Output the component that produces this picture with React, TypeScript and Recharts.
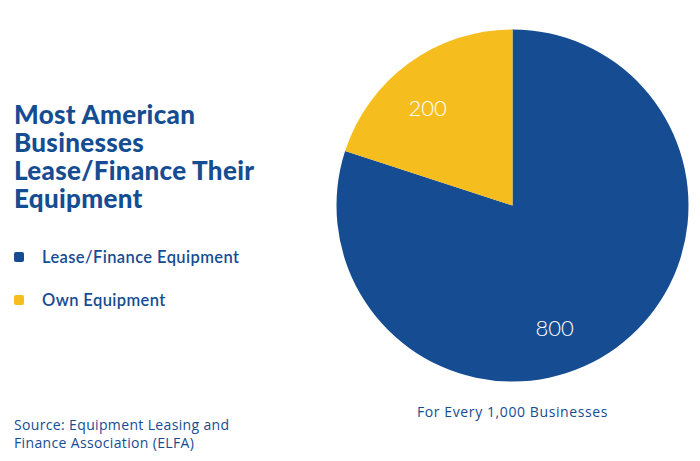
import React from "react";
import { PieChart, Pie, Cell } from "recharts";

const categories = ["Lease/Finance Equipment", "Own Equipment"];
const values = [800, 200];
const colors = ["#154C92", "#F5BE1E"];
const titleLines = ["Most American", "Businesses", "Lease/Finance Their", "Equipment"];
const sourceLines = ["Source: Equipment Leasing and", "Finance Association (ELFA)"];
const caption = "For Every 1,000 Businesses";

const data = categories.map((name, i) => ({ name, value: values[i] }));

const BLUE = "#154C92";
const LABEL_ANGLE_SHIFT = [-17, 5];
const RAD = Math.PI / 180;

const renderLabel = (props: any) => {
  const { cx, cy, midAngle, outerRadius, index, value } = props;
  const a = (midAngle + LABEL_ANGLE_SHIFT[index]) * RAD;
  const r = outerRadius * 0.735;
  const x = cx + r * Math.cos(a);
  const y = cy - r * Math.sin(a);
  return (
    <text
      x={x}
      y={y}
      fill="#ffffff"
      textAnchor="middle"
      dominantBaseline="central"
      style={{ fontFamily: "Lato, sans-serif", fontSize: 22, fontWeight: 300 }}
    >
      {value}
    </text>
  );
};

export default function App() {
  return (
    <div
      style={{
        position: "absolute",
        left: 0,
        top: 0,
        width: 700,
        height: 461,
        background: "#ffffff",
        overflow: "hidden",
      }}
    >
      <div
        style={{
          position: "absolute",
          left: 14,
          top: 100,
          fontFamily: "Lato, sans-serif",
          fontWeight: 900,
          fontSize: 26,
          lineHeight: "28px",
          color: BLUE,
          letterSpacing: 0.3,
        }}
      >
        {titleLines.map((l, i) => (
          <div key={i}>{l}</div>
        ))}
      </div>
      <div style={{ position: "absolute", left: 14, top: 235 }}>
        {categories.map((name, i) => (
          <div key={name} style={{ display: "flex", alignItems: "center", height: 43 }}>
            <span
              style={{
                display: "inline-block",
                width: 10,
                height: 10,
                borderRadius: 2,
                background: colors[i],
                marginRight: 18,
              }}
            />
            <span
              style={{
                fontFamily: "Lato, sans-serif",
                fontSize: 16.5,
                fontWeight: 600,
                color: BLUE,
                letterSpacing: 0.4,
              }}
            >
              {name}
            </span>
          </div>
        ))}
      </div>
      <div style={{ position: "absolute", left: 0, top: 0 }}>
        <PieChart width={700} height={461} margin={{ top: 0, right: 0, bottom: 0, left: 0 }}>
          <Pie
            data={data}
            dataKey="value"
            nameKey="name"
            cx={512.5}
            cy={205.5}
            outerRadius={176}
            startAngle={90}
            endAngle={-270}
            stroke="none"
            label={renderLabel}
            labelLine={false}
            isAnimationActive={false}
          >
            {data.map((d, i) => (
              <Cell key={d.name} fill={colors[i]} />
            ))}
          </Pie>
        </PieChart>
      </div>
      <div
        style={{
          position: "absolute",
          left: 0,
          width: 1025,
          top: 402,
          textAlign: "center",
          fontFamily: "'Open Sans', sans-serif",
          fontSize: 14,
          color: BLUE,
          letterSpacing: 0.6,
        }}
      >
        {caption}
      </div>
      <div
        style={{
          position: "absolute",
          left: 14,
          top: 416,
          fontFamily: "'Open Sans', sans-serif",
          fontSize: 14,
          lineHeight: "18px",
          color: BLUE,
          letterSpacing: 0.35,
        }}
      >
        {sourceLines.map((l, i) => (
          <div key={i}>{l}</div>
        ))}
      </div>
    </div>
  );
}
